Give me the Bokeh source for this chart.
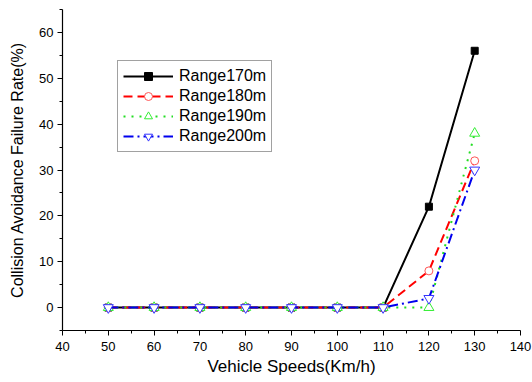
from bokeh.plotting import figure
from bokeh.models import FixedTicker, Legend, LegendItem, Range1d
from bokeh.embed import file_html
from bokeh.resources import INLINE

speeds = [50, 60, 70, 80, 90, 100, 110, 120, 130]
range170 = [0, 0, 0, 0, 0, 0, 0, 22, 56]
range180 = [0, 0, 0, 0, 0, 0, 0, 8, 32]
range190 = [0, 0, 0, 0, 0, 0, 0, 0, 38]
range200 = [0, 0, 0, 0, 0, 0, 0, 2, 30]

x_ticks = [40, 50, 60, 70, 80, 90, 100, 110, 120, 130, 140]
x_minor = [45, 55, 65, 75, 85, 95, 105, 115, 125, 135]
y_ticks = [0, 10, 20, 30, 40, 50, 60]
y_minor = [-5, 5, 15, 25, 35, 45, 55, 65]

FONT = "Liberation Sans"

p = figure(width=532, height=382, output_backend="svg", toolbar_location=None,
           x_range=Range1d(40, 140), y_range=Range1d(-5, 65),
           min_border_left=62, min_border_right=12, min_border_top=9, min_border_bottom=52)
p.outline_line_color = None
p.xgrid.visible = False
p.ygrid.visible = False

for ax, ticks, minor in ((p.xaxis[0], x_ticks, x_minor), (p.yaxis[0], y_ticks, y_minor)):
    ax.ticker = FixedTicker(ticks=ticks, minor_ticks=minor)
    ax.axis_line_color = "black"
    ax.axis_line_width = 1.2
    ax.major_tick_line_color = "black"
    ax.minor_tick_line_color = "black"
    ax.major_tick_in = 0
    ax.major_tick_out = 5
    ax.minor_tick_in = 0
    ax.minor_tick_out = 3
    ax.major_label_text_font = FONT
    ax.major_label_text_font_size = "13px"
    ax.major_label_text_color = "black"
    ax.axis_label_text_font = FONT
    ax.axis_label_text_font_style = "normal"
    ax.axis_label_text_color = "black"

p.xaxis.axis_label = "Vehicle Speeds(Km/h)"
p.yaxis.axis_label = "Collision Avoidance Failure Rate(%)"
p.xaxis.axis_label_text_font_size = "17px"
p.yaxis.axis_label_text_font_size = "16px"
p.xaxis.major_label_standoff = 6
p.xaxis.axis_label_standoff = 3
p.yaxis.major_label_standoff = 4
p.yaxis.axis_label_standoff = 10

l1 = p.line(speeds, range170, line_color="black", line_width=2)
m1 = p.scatter(speeds, range170, marker="square", size=7, fill_color="black", line_color="black")
l2 = p.line(speeds, range180, line_color="#ff0000", line_width=2, line_dash="9 5")
m2 = p.scatter(speeds, range180, marker="circle", size=8, fill_color="white", line_color="#ff5555")
l3 = p.line(speeds, range190, line_color="#22dd22", line_width=2, line_dash="2 6")
m3 = p.scatter(speeds, range190, marker="triangle", size=10, fill_color="white", line_color="#33ee33")
l4 = p.line(speeds, range200, line_color="#0000ee", line_width=2, line_dash="10 4 2 4")
m4 = p.scatter(speeds, range200, marker="inverted_triangle", size=10, fill_color="white", line_color="#3333ff")

legend = Legend(items=[
    LegendItem(label="Range170m", renderers=[l1, m1]),
    LegendItem(label="Range180m", renderers=[l2, m2]),
    LegendItem(label="Range190m", renderers=[l3, m3]),
    LegendItem(label="Range200m", renderers=[l4, m4]),
], location=(55, 178))
legend.label_text_font = FONT
legend.label_text_font_size = "16px"
legend.label_text_color = "black"
legend.glyph_width = 50
legend.glyph_height = 20
legend.label_height = 20
legend.spacing = 0
legend.padding = 5
legend.margin = 0
legend.label_standoff = 6
legend.border_line_color = "#444444"
legend.border_line_width = 1
legend.background_fill_alpha = 1
p.add_layout(legend, "center")

open("out.html", "w").write(file_html(p, INLINE))
